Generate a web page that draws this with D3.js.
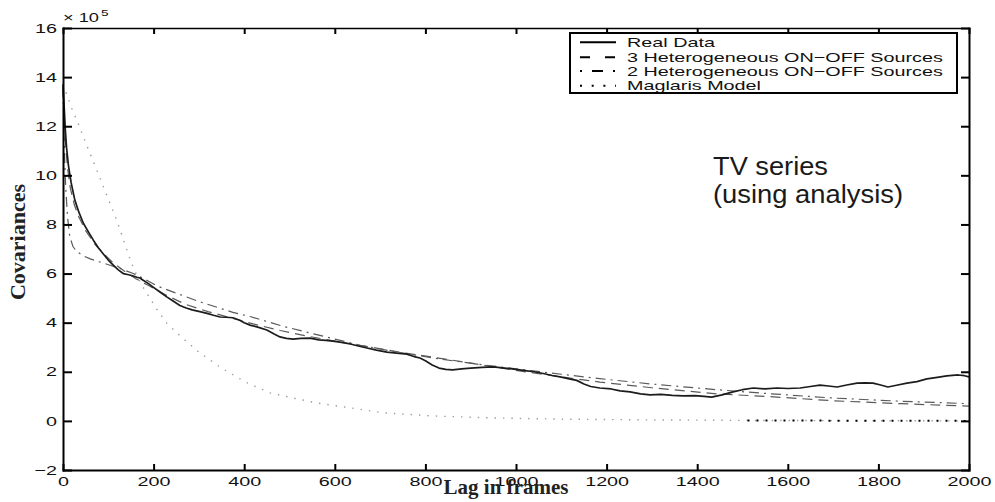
<!DOCTYPE html>
<html>
<head>
<meta charset="utf-8">
<script src="https://cdn.jsdelivr.net/npm/d3@7"></script>
<style>
  body { margin: 0; background: #fff; }
  svg { display: block; }
</style>
</head>
<body>
<svg id="chart" width="995" height="502"></svg>
<script>
// ---- data (lag in frames, covariance in units of 1e5) ----
const xTicks = [0, 200, 400, 600, 800, 1000, 1200, 1400, 1600, 1800, 2000];
const yTicks = [-2, 0, 2, 4, 6, 8, 10, 12, 14, 16];

const realLag = [0, 2, 5, 8, 12, 18, 26, 35, 45, 56, 67, 78, 89, 100, 111, 122, 133, 145, 155, 163,
  170, 177, 188, 199, 214, 229, 243, 258, 272, 285, 302, 318, 332, 347, 360, 375, 390, 400, 413, 430,
  450, 465, 479, 493, 508, 525, 545, 565, 580, 596, 615, 634, 652, 671, 692, 715, 737, 759, 775, 788,
  800, 815, 830, 845, 860, 880, 900, 925, 950, 975, 1000, 1020, 1040, 1060, 1080, 1100, 1115, 1134, 1150, 1165,
  1185, 1210, 1230, 1252, 1275, 1296, 1320, 1345, 1369, 1395, 1415, 1432, 1455, 1479, 1500, 1524, 1550, 1576, 1600, 1627,
  1650, 1671, 1690, 1709, 1730, 1753, 1770, 1788, 1805, 1821, 1840, 1863, 1885, 1907, 1930, 1951, 1976, 1990, 2000];
const realVal = [13.7, 13.0, 11.9, 11.1, 10.4, 9.7, 9.0, 8.5, 8.05, 7.7, 7.36, 7.05, 6.8, 6.55, 6.34, 6.15, 6.0, 5.95, 5.9, 5.85,
  5.82, 5.73, 5.6, 5.45, 5.25, 5.05, 4.88, 4.7, 4.6, 4.52, 4.45, 4.38, 4.3, 4.23, 4.22, 4.2, 4.1, 4.0, 3.9, 3.82,
  3.7, 3.55, 3.42, 3.36, 3.33, 3.36, 3.37, 3.3, 3.28, 3.25, 3.2, 3.13, 3.05, 2.97, 2.88, 2.8, 2.76, 2.72, 2.62, 2.56,
  2.45, 2.28, 2.15, 2.1, 2.08, 2.12, 2.15, 2.18, 2.2, 2.15, 2.1, 2.05, 2.0, 1.93, 1.85, 1.78, 1.72, 1.65, 1.5, 1.4,
  1.34, 1.3, 1.22, 1.18, 1.1, 1.06, 1.08, 1.04, 1.02, 1.03, 1.0, 0.97, 1.06, 1.18, 1.27, 1.34, 1.3, 1.34, 1.32, 1.34,
  1.4, 1.46, 1.42, 1.38, 1.46, 1.54, 1.55, 1.54, 1.46, 1.38, 1.45, 1.54, 1.6, 1.71, 1.77, 1.83, 1.87, 1.84, 1.79];

const het3Lag = [0, 3, 6, 10, 16, 25, 35, 50, 70, 90, 110, 135, 160, 190, 230, 270, 320, 370, 420, 480,
  540, 600, 680, 760, 850, 950, 1050, 1185, 1300, 1443, 1550, 1700, 1850, 2000];
const het3Val = [13.5, 12.3, 11.2, 10.3, 9.5, 8.8, 8.3, 7.75, 7.2, 6.8, 6.45, 6.1, 5.8, 5.5, 5.1, 4.75, 4.45, 4.2, 3.95, 3.68,
  3.45, 3.25, 3.0, 2.75, 2.5, 2.2, 1.92, 1.58, 1.35, 1.1, 1.0, 0.82, 0.7, 0.6];

const het2Lag = [0, 3, 6, 10, 15, 22, 30, 45, 60, 80, 104, 130, 155, 180, 207, 250, 302, 375, 413, 486,
  574, 656, 744, 832, 920, 1000, 1100, 1185, 1300, 1443, 1550, 1700, 1850, 2000];
const het2Val = [13.6, 11.0, 9.5, 8.3, 7.5, 7.1, 6.9, 6.72, 6.6, 6.48, 6.34, 6.18, 6.0, 5.78, 5.5, 5.2, 4.85, 4.42, 4.25, 3.85,
  3.45, 3.08, 2.78, 2.52, 2.3, 2.12, 1.9, 1.72, 1.5, 1.27, 1.12, 0.93, 0.8, 0.7];

const maglarisLag = [0, 8, 20, 37, 55, 75, 90, 104, 120, 133, 145, 155, 165, 175, 185, 205, 229, 262, 300, 350,
  402, 457, 508, 560, 634, 707, 818, 950, 1100, 1300, 1500, 1700, 2000];
const maglarisVal = [13.7, 13.3, 12.7, 11.95, 11.1, 10.2, 9.5, 8.85, 8.1, 7.4, 6.75, 6.25, 5.85, 5.5, 5.2, 4.6, 3.98, 3.4, 2.8, 2.15,
  1.59, 1.14, 0.93, 0.73, 0.53, 0.33, 0.2, 0.12, 0.07, 0.04, 0.02, 0.01, 0.0];

const legendLabels = ["Real Data", "3 Heterogeneous ON\u2212OFF Sources",
  "2 Heterogeneous ON\u2212OFF Sources", "Maglaris Model"];

// ---- layout ----
const svg = d3.select("#chart");
const plotL = 63, plotR = 969, plotT = 28, plotB = 470;
const x = d3.scaleLinear().domain([0, 2000]).range([plotL, plotR]);
const y = d3.scaleLinear().domain([-2, 16]).range([plotB, plotT]);
const K = 1.52; // horizontal widening of the figure lettering
const sans = "'Liberation Sans', Arial, Helvetica, sans-serif";
const serif = "'Liberation Serif', 'Times New Roman', serif";

function stretch(sel, k) {
  sel.each(function () {
    const w = this.getComputedTextLength();
    d3.select(this).attr("textLength", w * k).attr("lengthAdjust", "spacingAndGlyphs");
  });
}

const zip = (xs, ys) => xs.map((v, i) => [v, ys[i]]);
const line = d3.line().x(d => x(d[0])).y(d => y(d[1]));

// ---- series ----
const g = svg.append("g");

// Maglaris model: light dots, darker dots on the flat tail
const mag = zip(maglarisLag, maglarisVal);
g.append("path").attr("d", line(mag))
  .attr("fill", "none").attr("stroke", "#9c9c9c").attr("stroke-width", 1.4)
  .attr("stroke-dasharray", "1.4,7");
g.append("path").attr("d", line(mag.filter(d => d[0] >= 1500)))
  .attr("fill", "none").attr("stroke", "#000").attr("stroke-width", 2)
  .attr("stroke-dasharray", "2,7").attr("stroke-dashoffset", -5);

g.append("path").attr("d", line(zip(het3Lag, het3Val)))
  .attr("fill", "none").attr("stroke", "#5a5a5a").attr("stroke-width", 1.2)
  .attr("stroke-dasharray", "10,6");

g.append("path").attr("d", line(zip(het2Lag, het2Val)))
  .attr("fill", "none").attr("stroke", "#5a5a5a").attr("stroke-width", 1.2)
  .attr("stroke-dasharray", "10,5,2,5");

g.append("path").attr("d", line(zip(realLag, realVal)))
  .attr("fill", "none").attr("stroke", "#1c1c1c").attr("stroke-width", 1.7)
  .attr("stroke-linejoin", "round");

// ---- axes ----
const xAxis = svg.append("g").attr("transform", `translate(0,${plotB})`)
  .call(d3.axisBottom(x).tickValues(xTicks).tickSizeInner(-6).tickSizeOuter(0).tickPadding(7)
    .tickFormat(d3.format("d")));
const yAxis = svg.append("g").attr("transform", `translate(${plotL},0)`)
  .call(d3.axisLeft(y).tickValues(yTicks).tickSizeInner(-9).tickSizeOuter(0).tickPadding(6)
    .tickFormat(d => d < 0 ? "\u2212" + Math.abs(d) : d));
const topAxis = svg.append("g").attr("transform", `translate(0,${plotT})`)
  .call(d3.axisTop(x).tickValues(xTicks).tickSizeInner(-6).tickSizeOuter(0).tickFormat(""));
const rightAxis = svg.append("g").attr("transform", `translate(${plotR},0)`)
  .call(d3.axisRight(y).tickValues(yTicks).tickSizeInner(-8).tickSizeOuter(0).tickFormat(""));

[xAxis, yAxis, topAxis, rightAxis].forEach(a => {
  a.selectAll(".tick line").attr("stroke", "#000").attr("stroke-width", 2);
  a.select(".domain").attr("stroke", "#000").attr("stroke-width", 2).attr("stroke-linecap", "square");
});
topAxis.select(".domain").attr("stroke-width", 1.5);

[xAxis, yAxis].forEach(a => {
  a.selectAll(".tick text").attr("font-family", sans).attr("font-size", 13).attr("fill", "#111");
  stretch(a.selectAll(".tick text"), K);
});
xAxis.selectAll(".tick text").attr("dy", "0.71em");

// exponent label
const expo = svg.append("text").attr("x", 63).attr("y", 22)
  .attr("font-family", sans).attr("font-size", 12).attr("fill", "#111").text("\u00d7 10");
stretch(expo, K);
const sup = svg.append("text").attr("x", 101).attr("y", 16)
  .attr("font-family", sans).attr("font-size", 9).attr("fill", "#111").text("5");
stretch(sup, K);

// axis titles
svg.append("text").attr("transform", "translate(25,242) rotate(-90)")
  .attr("text-anchor", "middle").attr("font-family", serif).attr("font-weight", "bold")
  .attr("font-size", 22).attr("fill", "#222").text("Covariances");
svg.append("text").attr("x", 506).attr("y", 494)
  .attr("text-anchor", "middle").attr("font-family", serif).attr("font-weight", "bold")
  .attr("font-size", 21).attr("fill", "#222").text("Lag in frames");

// annotation
const note = svg.append("g").attr("font-family", sans).attr("font-size", 25).attr("fill", "#1a1a1a");
note.append("text").attr("x", 713).attr("y", 175).text("TV series")
  .attr("textLength", 115).attr("lengthAdjust", "spacingAndGlyphs");
note.append("text").attr("x", 713).attr("y", 203).text("(using analysis)")
  .attr("textLength", 190).attr("lengthAdjust", "spacingAndGlyphs");

// ---- legend ----
const leg = svg.append("g");
leg.append("rect").attr("x", 570).attr("y", 33).attr("width", 387).attr("height", 60)
  .attr("fill", "#fff").attr("stroke", "#000").attr("stroke-width", 2);
const rowY = [42.3, 57.3, 71, 85.7];
const sampleDash = [null, "10,15", "2,10,11,10", "2,9.7"];
legendLabels.forEach((lab, i) => {
  leg.append("line").attr("x1", 580).attr("x2", 616).attr("y1", rowY[i]).attr("y2", rowY[i])
    .attr("stroke", "#000").attr("stroke-width", 2)
    .attr("stroke-dasharray", sampleDash[i]);
  const t = leg.append("text").attr("x", 627).attr("y", rowY[i] + 4.6)
    .attr("font-family", sans).attr("font-size", 13).attr("fill", "#111").text(lab);
  stretch(t, K);
});
</script>
</body>
</html>
